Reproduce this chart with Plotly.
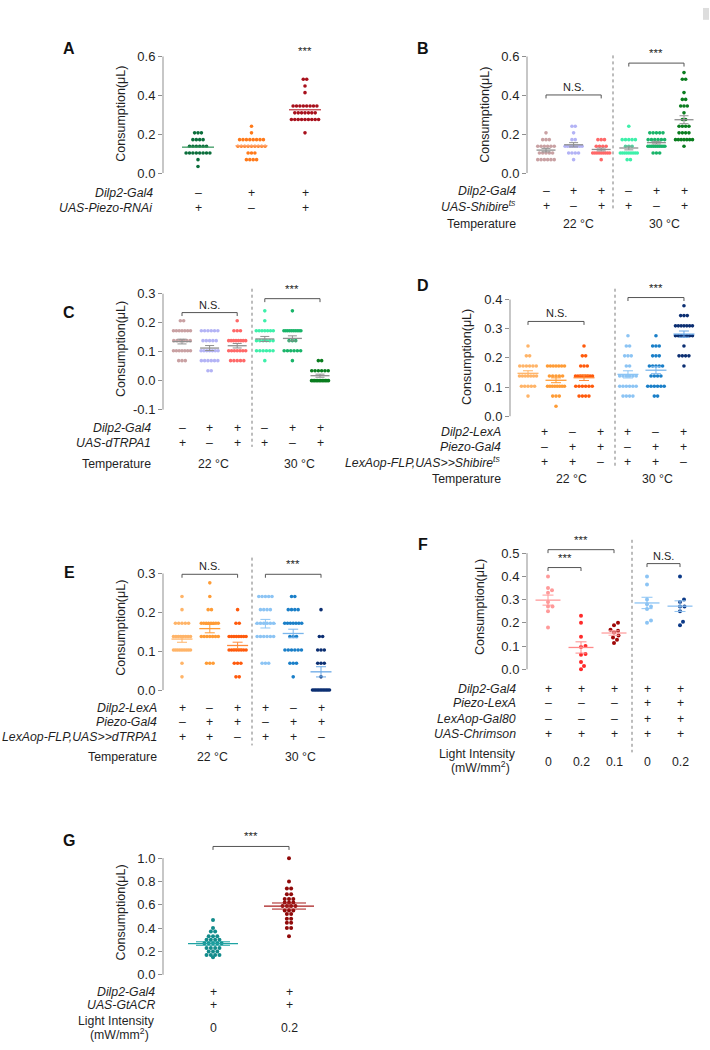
import numpy as np
import plotly.graph_objects as go

W, H = 710, 1050
FONT = "Liberation Sans, Arial, Helvetica, sans-serif"
INK = "#1f1f1f"
GREY = "#8f8f8f"

# ------------------------------------------------------------------ data
# measurement resolution of the consumption assay (uL)
LEVELS = [0.0, 0.034, 0.069, 0.103, 0.138, 0.172, 0.207, 0.241, 0.276,
          0.310, 0.345, 0.379, 0.414, 0.448, 0.483, 0.517]

# number of flies found at each level (index = position in LEVELS)
A_counts = [
    [0, 1, 1, 8, 6, 4, 3],
    [0, 0, 4, 3, 9, 8, 1, 1],
    [0, 0, 0, 0, 0, 0, 1, 0, 9, 7, 8, 0, 1, 1, 2],
]
B_counts = [
    [0, 0, 6, 5, 6, 3, 1],
    [0, 0, 1, 4, 8, 2, 1, 2],
    [0, 0, 1, 9, 4, 3],
    [0, 0, 2, 9, 3, 5, 0, 1],
    [0, 0, 0, 3, 10, 6, 5],
    [0, 0, 0, 0, 1, 7, 4, 4, 2, 1, 3, 2, 1, 0, 2, 1],
]
C_counts = [
    [0, 0, 3, 7, 6, 7, 2],
    [0, 2, 6, 7, 5, 6],
    [0, 0, 5, 7, 8, 3, 1],
    [0, 0, 1, 6, 6, 7, 1, 1],
    [0, 0, 1, 6, 3, 10, 0, 1],
    [12, 6, 2],
]
D_counts = [
    [0, 0, 1, 5, 7, 6, 2, 1],
    [0, 1, 3, 8, 5, 7],
    [0, 0, 4, 6, 8, 3, 2, 1],
    [0, 0, 4, 6, 6, 2, 3, 2, 1],
    [0, 0, 2, 6, 4, 5, 3, 3, 1],
    [0, 0, 0, 0, 0, 1, 4, 1, 7, 7, 3, 1],
]
E_counts = [
    [0, 1, 1, 10, 8, 5, 1, 1],
    [0, 0, 3, 0, 7, 8, 2, 1, 1],
    [0, 2, 3, 8, 8, 2, 1],
    [0, 0, 3, 0, 6, 6, 4, 5],
    [0, 1, 3, 6, 3, 7, 4, 2],
    [12, 1, 3, 3, 2, 0, 1],
]
F_values = [
    [0.40, 0.35, 0.34, 0.33, 0.29, 0.27, 0.27, 0.25, 0.18],
    [0.23, 0.20, 0.14, 0.10, 0.096, 0.066, 0.063, 0.031, 0.014, 0.0],
    [0.20, 0.19, 0.17, 0.166, 0.158, 0.145, 0.137, 0.127, 0.113],
    [0.40, 0.365, 0.30, 0.28, 0.27, 0.26, 0.21, 0.20],
    [0.40, 0.30, 0.29, 0.27, 0.27, 0.25, 0.205, 0.19],
]
G_values = [
    [0.47, 0.40, 0.37, 0.37, 0.33, 0.33, 0.33, 0.30, 0.30, 0.30, 0.30,
     0.27, 0.27, 0.27, 0.27, 0.27, 0.23, 0.23, 0.23, 0.23, 0.20, 0.20,
     0.20, 0.17, 0.17, 0.17, 0.17, 0.15],
    [1.00, 0.80, 0.74, 0.74, 0.69, 0.69, 0.65, 0.65, 0.65, 0.62, 0.62,
     0.62, 0.59, 0.59, 0.59, 0.59, 0.55, 0.55, 0.55, 0.52, 0.52, 0.48,
     0.48, 0.445, 0.445, 0.40, 0.40, 0.33],
]

# genotype tables
A_rows = [("Dilp2-Gal4", ["–", "+", "+"]),
          ("UAS-Piezo-RNAi", ["+", "–", "+"])]
B_rows = [("Dilp2-Gal4", ["–", "+", "+", "–", "+", "+"]),
          ("UAS-Shibire<sup>ts</sup>", ["+", "–", "+", "+", "–", "+"])]
C_rows = [("Dilp2-Gal4", ["–", "+", "+", "–", "+", "+"]),
          ("UAS-dTRPA1", ["+", "–", "+", "+", "–", "+"])]
D_rows = [("Dilp2-LexA", ["+", "–", "+", "+", "–", "+"]),
          ("Piezo-Gal4", ["–", "+", "+", "–", "+", "+"]),
          ("LexAop-FLP,UAS>>Shibire<sup>ts</sup>", ["+", "+", "–", "+", "+", "–"])]
E_rows = [("Dilp2-LexA", ["+", "–", "+", "+", "–", "+"]),
          ("Piezo-Gal4", ["–", "+", "+", "–", "+", "+"]),
          ("LexAop-FLP,UAS>>dTRPA1", ["+", "+", "–", "+", "+", "–"])]
F_rows = [("Dilp2-Gal4", ["+", "+", "+", "+", "+"]),
          ("Piezo-LexA", ["–", "–", "–", "+", "+"]),
          ("LexAop-Gal80", ["–", "–", "–", "+", "+"]),
          ("UAS-Chrimson", ["+", "+", "+", "+", "+"])]
G_rows = [("Dilp2-Gal4", ["+", "+"]),
          ("UAS-GtACR", ["+", "+"])]
TEMPS = ["22 °C", "30 °C"]
F_light = ["0", "0.2", "0.1", "0", "0.2"]
G_light = ["0", "0.2"]


def expand(counts):
    return np.repeat(np.array(LEVELS[:len(counts)]), counts)


# ------------------------------------------------------------------ layout config
BC_COL = ["#c9a1a3", "#b3b3f5", "#ff6868", "#3ef0aa", "#19b469", "#0a7d1f"]
DE_COL = ["#ffb468", "#ff9c36", "#ff5a0c", "#8cc4f4", "#1a7fc8", "#0c2f72"]
DE_MEAN = ["#ffb468", "#ff9c36", "#ff8a3a", "#8cc4f4", "#7ab6ec", "#6aa8e6"]

panels = [
    dict(letter="A", letter_px=(69, 45), groups=[expand(c) for c in A_counts],
         colors=["#0b6e3b", "#ff7a1a", "#a8101c"],
         mean_colors=["#3c9a62", "#ffa46e", "#c2404c"], err_colors=None,
         axis_px=163, right_px=340, pos1_px=198, sp=53.5, pos=[1, 2, 3],
         yzero=171, ppu=196.5, yr=[0, 0.63], ticks=[0, 0.2, 0.4, 0.6],
         dot=3.6, d=3.4, maxw=30, meanw=32, capw=0,
         rows=A_rows, rows_y=[191, 206], label_right=155, tshift=None,
         temp=None, light=None, title=(121, 111),
         brackets=[(3, 3, 0.575, "***", False)], divider=None),
    dict(letter="B", letter_px=(423, 45), groups=[expand(c) for c in B_counts],
         colors=BC_COL, mean_colors=[GREY] * 6, err_colors=[GREY] * 6,
         axis_px=527, right_px=700, pos1_px=546, sp=27.6, pos=[1, 2, 3, 4, 5, 6],
         yzero=171, ppu=196.5, yr=[0, 0.65], ticks=[0, 0.2, 0.4, 0.6],
         dot=3.6, d=3.3, maxw=17, meanw=19, capw=9,
         rows=B_rows, rows_y=[189, 204], label_right=518, tshift=None,
         temp=(223, [(2, 5), (5, 8)]), light=None, title=(485, 112),
         brackets=[(1, 3, 0.402, "N.S.", True), (4, 6, 0.566, "***", True)],
         divider=(613, 52, 208)),
    dict(letter="C", letter_px=(69, 312), groups=[expand(c) for c in C_counts],
         colors=BC_COL, mean_colors=[GREY] * 6, err_colors=[GREY] * 6,
         axis_px=163, right_px=336, pos1_px=182, sp=27.6, pos=[1, 2, 3, 4, 5, 6],
         yzero=381, ppu=293, yr=[-0.1, 0.33], ticks=[-0.1, 0, 0.1, 0.2, 0.3],
         dot=3.6, d=3.3, maxw=17, meanw=19, capw=9,
         rows=C_rows, rows_y=[429, 444], label_right=153, tshift=None,
         temp=(465, [(2, 4), (5, 7)]), light=None, title=(121, 349),
         brackets=[(1, 3, 0.235, "N.S.", True), (4, 6, 0.283, "***", True)],
         divider=(252, 288, 448)),
    dict(letter="D", letter_px=(423, 285), groups=[expand(c) for c in D_counts],
         colors=DE_COL, mean_colors=DE_MEAN, err_colors=DE_MEAN,
         axis_px=510, right_px=700, pos1_px=528, sp=28, pos=[1, 2, 3, 4.57, 5.57, 6.57],
         yzero=417, ppu=295, yr=[0, 0.42], ticks=[0, 0.1, 0.2, 0.3, 0.4],
         dot=3.6, d=3.3, maxw=17, meanw=21, capw=10,
         rows=D_rows, rows_y=[433, 448, 463], label_right=503, tshift=[16, 16, 16, 0, 0, 0],
         temp=(480, [(2, 15), (5, 2)]), light=None, title=(467, 357),
         brackets=[(1, 3, 0.325, "N.S.", True), (4, 6, 0.407, "***", True)],
         divider=(615, 288, 470)),
    dict(letter="E", letter_px=(69, 575), groups=[expand(c) for c in E_counts],
         colors=DE_COL, mean_colors=DE_MEAN, err_colors=DE_MEAN,
         axis_px=163, right_px=338, pos1_px=182, sp=27.8, pos=[1, 2, 3, 4, 5, 6],
         yzero=694, ppu=393, yr=[0, 0.31], ticks=[0, 0.1, 0.2, 0.3],
         dot=3.6, d=3.3, maxw=17, meanw=21, capw=10,
         rows=E_rows, rows_y=[712, 726, 741], label_right=159, tshift=None,
         temp=(762, [(2, 3), (5, 7)]), light=None, title=(121, 631),
         brackets=[(1, 3, 0.298, "N.S.", True), (4, 6, 0.298, "***", True)],
         divider=(252, 560, 750)),
    dict(letter="F", letter_px=(423, 547), groups=[np.array(v) for v in F_values],
         colors=["#ff9a9a", "#ff2a2a", "#a00808", "#8cc4f4", "#0c3a88"],
         mean_colors=["#ff9a9a", "#ff8a8a", "#ffa0a0", "#8cc4f4", "#8cc0f0"],
         err_colors=["#ff9a9a", "#ff8a8a", "#ffa0a0", "#8cc4f4", "#8cc0f0"],
         axis_px=527, right_px=700, pos1_px=548, sp=33, pos=[1, 2, 3, 4, 5],
         yzero=673, ppu=235, yr=[0, 0.53], ticks=[0, 0.1, 0.2, 0.3, 0.4, 0.5],
         dot=4.0, d=None, maxw=None, meanw=25, capw=11, swarm=True,
         rows=F_rows, rows_y=[693, 707, 723, 738], label_right=518, tshift=None,
         temp=None, light=(759, 772, 767, F_light), title=(480, 610),
         brackets=[(1, 3, 0.515, "***", True), (1, 2, 0.438, "***", True),
                   (4, 5, 0.455, "N.S.", True)],
         divider=(632, 542, 757)),
    dict(letter="G", letter_px=(69, 846), groups=[np.array(v) for v in G_values],
         colors=["#138c8c", "#900a0a"], mean_colors=["#1ea3a3", "#a81c1c"],
         err_colors=["#1ea3a3", "#a81c1c"],
         axis_px=163, right_px=340, pos1_px=213, sp=76, pos=[1, 2],
         yzero=982, ppu=118, yr=[0, 1.12], ticks=[0, 0.2, 0.4, 0.6, 0.8, 1.0],
         dot=4.0, d=4.3, maxw=30, meanw=50, capw=34,
         rows=G_rows, rows_y=[999, 1013], label_right=157, tshift=None,
         temp=None, light=(1029, 1042, 1036, G_light), title=(121, 919),
         brackets=[(1, 2, 1.10, "***", True)], divider=None),
]


def row_offsets(vals, d, maxw):
    off = np.zeros(len(vals))
    for v in np.unique(vals):
        idx = np.where(vals == v)[0]
        n = len(idx)
        if n > 1:
            w = min((n - 1) * d, maxw)
            off[idx] = np.linspace(-w / 2, w / 2, n)
    return off


def swarm_offsets(vals, ppu, dia):
    off = np.zeros(len(vals))
    placed = []
    for i in np.argsort(vals):
        y = vals[i] * ppu
        k = 0
        done = False
        while not done:
            cands = [0.0] if k == 0 else [k * 0.5, -k * 0.5]
            for c in cands:
                if all((c - px) ** 2 + (y - py) ** 2 >= dia ** 2 for px, py in placed):
                    off[i] = c
                    placed.append((c, y))
                    done = True
                    break
            k += 1
    return off


fig = go.Figure()
layout = {}
shapes = []
ann = []
TS = 12.3  # general text size


def txt(**kw):
    base = dict(showarrow=False, font=dict(family=FONT, size=TS, color=INK))
    if "font" in kw:
        base["font"].update(kw.pop("font"))
    base.update(kw)
    ann.append(base)


for pi, P in enumerate(panels):
    sfx = "" if pi == 0 else str(pi + 1)
    xa, ya = "x" + sfx, "y" + sfx
    sp = P["sp"]
    xlo = 1 - (P["pos1_px"] - P["axis_px"]) / sp
    xhi = P["pos"][-1] + (P["right_px"] - (P["pos1_px"] + (P["pos"][-1] - 1) * sp)) / sp
    ylo, yhi = P["yr"]
    top_px = P["yzero"] - yhi * P["ppu"]
    bot_px = P["yzero"] - ylo * P["ppu"]
    layout["xaxis" + sfx] = dict(domain=[P["axis_px"] / W, P["right_px"] / W],
                                range=[xlo, xhi], visible=False, anchor=ya,
                                fixedrange=True)
    layout["yaxis" + sfx] = dict(domain=[1 - bot_px / H, 1 - top_px / H],
                                range=[ylo, yhi], anchor=xa, showline=False,
                                showgrid=False, zeroline=False, ticks="outside",
                                ticklen=4, tickwidth=1, tickcolor=GREY,
                                tickvals=P["ticks"],
                                ticktext=[f"{t:.1f}" for t in P["ticks"]],
                                tickfont=dict(family=FONT, size=13, color=INK),
                                fixedrange=True)
    # y axis line from lowest to highest tick
    shapes.append(dict(type="line", xref=xa + " domain", yref=ya + " domain",
                       x0=0, x1=0,
                       y0=(P["ticks"][0] - ylo) / (yhi - ylo),
                       y1=(P["ticks"][-1] - ylo) / (yhi - ylo),
                       line=dict(color=GREY, width=1)))

    # points
    for g, vals in enumerate(P["groups"]):
        vals = np.asarray(vals, float)
        if P.get("swarm"):
            off_px = swarm_offsets(vals, P["ppu"], P["dot"] + 0.4)
        else:
            off_px = row_offsets(vals, P["d"], P["maxw"])
        fig.add_trace(go.Scatter(
            x=P["pos"][g] + off_px / sp, y=vals, xaxis=xa, yaxis=ya,
            mode="markers", cliponaxis=False, hoverinfo="skip",
            marker=dict(size=P["dot"], color=P["colors"][g], line=dict(width=0))))
    # mean +- SEM
    for g, vals in enumerate(P["groups"]):
        vals = np.asarray(vals, float)
        mean = vals.mean()
        sem = vals.std(ddof=1) / np.sqrt(len(vals))
        ec = P["err_colors"][g] if P["err_colors"] else P["mean_colors"][g]
        fig.add_trace(go.Scatter(
            x=[P["pos"][g]], y=[mean], xaxis=xa, yaxis=ya, mode="markers",
            cliponaxis=False, hoverinfo="skip",
            marker=dict(symbol="line-ew", size=P["meanw"] / 1.4,
                        line=dict(color=P["mean_colors"][g], width=1.3)),
            error_y=dict(type="data", array=[sem], visible=P["capw"] > 0,
                         color=ec, thickness=1, width=P["capw"] / 2)))

    # significance brackets
    for (ga, gb, yv, label, draw) in P["brackets"]:
        x0, x1 = P["pos"][ga - 1], P["pos"][gb - 1]
        tk = 3.5 / P["ppu"]
        if draw:
            shapes.append(dict(type="path", xref=xa, yref=ya,
                               path=f"M {x0},{yv - tk} L {x0},{yv} L {x1},{yv} L {x1},{yv - tk}",
                               line=dict(color="#555555", width=1)))
        txt(xref=xa, yref=ya, x=(x0 + x1) / 2, y=yv, xanchor="center",
            yanchor="bottom", yshift=2 if label == "***" else 0,
            text=label, font=dict(size=11.5 if label == "***" else 11))

    # divider
    if P["divider"]:
        dx, dy0, dy1 = P["divider"]
        shapes.append(dict(type="line", xref="paper", yref="paper",
                           x0=dx / W, x1=dx / W, y0=1 - dy0 / H, y1=1 - dy1 / H,
                           line=dict(color="#7a7a7a", width=1, dash="dot")))

    # genotype table
    for r, (label, signs) in enumerate(P["rows"]):
        yy = 1 - P["rows_y"][r] / H
        txt(xref="paper", yref="paper", x=P["label_right"] / W, y=yy,
            xanchor="right", yanchor="middle", text=f"<i>{label}</i>")
        for g, s in enumerate(signs):
            txt(xref=xa, yref="paper", x=P["pos"][g],
                xshift=P["tshift"][g] if P["tshift"] else 0,
                y=yy, xanchor="center", yanchor="middle", text=s)
    if P["temp"]:
        ty, items = P["temp"]
        txt(xref="paper", yref="paper", x=P["label_right"] / W, y=1 - ty / H,
            xanchor="right", yanchor="middle", text="Temperature")
        for (g, xs), t in zip(items, TEMPS):
            txt(xref=xa, yref="paper", x=P["pos"][g - 1], xshift=xs, y=1 - ty / H,
                xanchor="center", yanchor="middle", text=t)
    if P["light"]:
        l1, l2, lv, vals = P["light"]
        txt(xref="paper", yref="paper", x=P["label_right"] / W, y=1 - l1 / H,
            xanchor="right", yanchor="middle", text="Light Intensity")
        txt(xref="paper", yref="paper", x=(P["label_right"] - 6) / W, y=1 - l2 / H,
            xanchor="right", yanchor="middle", text="(mW/mm<sup>2</sup>)")
        for g, t in enumerate(vals):
            txt(xref=xa, yref="paper", x=P["pos"][g], y=1 - lv / H,
                xanchor="center", yanchor="middle", text=t)

    # y title and panel letter
    tx, ty = P["title"]
    txt(xref="paper", yref="paper", x=tx / W, y=1 - ty / H, xanchor="center",
        yanchor="middle", textangle=-90, text="Consumption(μL)",
        font=dict(size=12.5))
    lx, lyy = P["letter_px"]
    txt(xref="paper", yref="paper", x=lx / W, y=1 - lyy / H, xanchor="center",
        yanchor="middle", text="<b>" + P["letter"] + "</b>",
        font=dict(size=16, color="#111111"))

# small grey mark at the top-right corner of the page
shapes.append(dict(type="rect", xref="paper", yref="paper", x0=703 / W, x1=709 / W,
                   y0=1 - 16 / H, y1=1 - 4 / H, line=dict(width=0),
                   fillcolor="#dddddd"))

fig.update_layout(width=W, height=H, margin=dict(l=0, r=0, t=0, b=0),
                  paper_bgcolor="white", plot_bgcolor="rgba(0,0,0,0)",
                  showlegend=False, hovermode=False, autosize=False,
                  shapes=shapes, annotations=ann, **layout)
fig.write_html("out.html", config={"displayModeBar": False},
               post_script="var gd=document.getElementById('{plot_id}');"
                           "gd.style.position='fixed';gd.style.left='0px';"
                           "gd.style.top='0px';"
                           "document.documentElement.style.margin='0px';"
                           "document.body.style.margin='0px';"
                           "document.body.style.overflow='hidden';"
                           "document.documentElement.style.overflow='hidden';")
